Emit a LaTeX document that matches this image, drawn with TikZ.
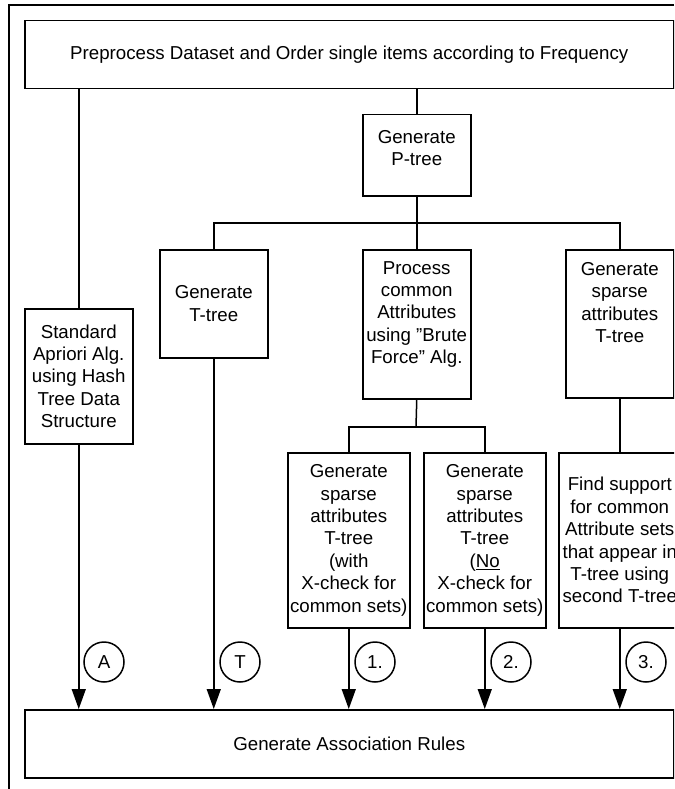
\documentclass[tikz,border=0pt]{standalone}
\usepackage{fontspec}
\setmainfont{Liberation Sans}
\usetikzlibrary{arrows.meta}
\begin{document}
\begin{tikzpicture}[x=1pt,y=-1pt,
  every node/.style={font=\fontsize{18.7}{22.4}\selectfont},
  box/.style={draw, line width=1.5pt, rectangle, inner sep=0pt, anchor=north west, align=center},
  txt/.style={inner sep=0pt, align=center, anchor=north},
  ln/.style={line width=1.5pt},
  arr/.style={line width=1.5pt, -{Triangle[length=20pt,width=14pt]}},
  lab/.style={draw, circle, line width=1.5pt, minimum size=40pt, inner sep=0pt}]
\useasboundingbox (0,0) rectangle (674,789);
\clip (0,0) rectangle (674,789);
% outer frame (cropped)
\draw[ln] (674,5) -- (9,5) -- (9,789);
% boxes
\node[box, minimum width=649pt, minimum height=68pt] (top) at (24,20)
  {Preprocess Dataset and Order single items according to Frequency};
\node[box, minimum width=108pt, minimum height=81pt] (ptree) at (362,114) {};
\node[box, minimum width=108pt, minimum height=108pt] (ttree) at (159,249) {Generate\\T-tree};
\node[box, minimum width=108pt, minimum height=149pt] (proc) at (362,249) {};
\node[box, minimum width=108pt, minimum height=148pt] (sparse) at (565,249) {};
\node[box, minimum width=108pt, minimum height=135pt] (std) at (24,308)
  {Standard\\Apriori Alg.\\using Hash\\Tree Data\\Structure};
\node[box, minimum width=122pt, minimum height=175pt] (b1) at (287,452)
  {Generate\\sparse\\attributes\\T-tree\\(with\\X-check for\\common sets)};
\node[box, minimum width=122pt, minimum height=175pt] (b2) at (423,452)
  {Generate\\sparse\\attributes\\T-tree\\(\underline{No}\\X-check for\\common sets)};
\node[box, minimum width=122pt, minimum height=175pt] (b3) at (558,452)
  {Find support\\for common\\Attribute sets\\that appear in\\T-tree using\\second T-tree};
\node[box, minimum width=649pt, minimum height=68pt] (bot) at (24,709)
  {Generate Association Rules};
% top-aligned texts
\node[txt] (ptreetxt) at ([yshift=-16pt]ptree.north) {Generate\\P-tree};
\node[txt] (proctxt) at ([yshift=-12pt]proc.north) {Process\\common\\Attributes\\using "Brute\\Force'' Alg.};
\node[txt] (sparsetxt) at ([yshift=-13pt]sparse.north) {Generate\\sparse\\attributes\\T-tree};
% connectors
\coordinate (bus) at (416,223);
\coordinate (subbus) at (416,427);
\draw[ln] (top.south -| std.north) -- (std.north);
\draw[ln] (top.south -| ptree.north) -- (ptree.north);
\draw[ln] (ptree.south) -- (proc.north);
\draw[ln] (ttree.north) |- (bus) -| (sparse.north);
\draw[ln] (proc.south) -- (subbus);
\draw[ln] (b1.north) |- (subbus) -| (b2.north);
\draw[ln] (sparse.south) -- (b3.north);
% arrows into the bottom box
\draw[arr] (std.south) -- (std.south |- bot.north);
\draw[arr] (ttree.south) -- (ttree.south |- bot.north);
\draw[arr] (b1.south) -- (b1.south |- bot.north);
\draw[arr] (b2.south) -- (b2.south |- bot.north);
\draw[arr] (b3.south) -- (b3.south |- bot.north);
% circled labels
\node[lab] (cA) at (104,662) {A};
\node[lab] (cT) at (240,662) {T};
\node[lab] (c1) at (375,662) {1.};
\node[lab] (c2) at (511,662) {2.};
\node[lab] (c3) at (646,662) {3.};
\end{tikzpicture}
\end{document}
